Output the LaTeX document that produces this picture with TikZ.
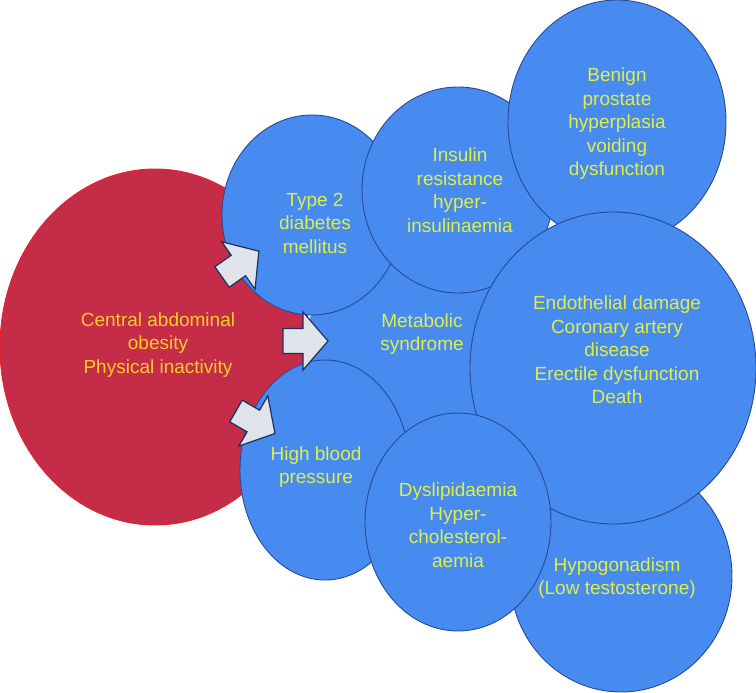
\documentclass[tikz,border=0pt]{standalone}
\usepackage{fontspec}
\setmainfont{Liberation Sans}
\usetikzlibrary{shapes.geometric}
\definecolor{redfill}{RGB}{196,44,72}
\definecolor{redline}{RGB}{232,30,40}
\definecolor{bluefill}{RGB}{72,139,240}
\definecolor{blueline}{RGB}{40,74,150}
\definecolor{txtgreen}{RGB}{222,240,70}
\definecolor{txtyellow}{RGB}{250,205,40}
\definecolor{arrfill}{RGB}{222,228,233}
\definecolor{arrline}{RGB}{28,48,98}
\begin{document}
\begin{tikzpicture}[x=1pt,y=-1pt,
 bubble/.style={ellipse, draw=blueline, fill=bluefill, line width=0.9pt, inner sep=0pt},
 lbl/.style={align=center, text=txtgreen, inner sep=0pt, font=\fontsize{19}{23.5}\selectfont},
 fatarrow/.style={draw=arrline, fill=arrfill, line width=1.2pt, line join=miter},
 pics/blockarrow/.style={code={
   \path[fatarrow] (0,12.5) -- (20,12.5) -- (20,29) -- (45,0) -- (20,-29)
     -- (20,-12.5) -- (0,-12.5) -- cycle;}}]
\useasboundingbox (0,0) rectangle (756,693);
% cause
\node[ellipse, draw=redline, fill=redfill, line width=0.9pt, inner sep=0pt,
  minimum width=310pt, minimum height=356pt] (obesity) at (155,347) {};
\node[lbl, text=txtyellow] (tobesity) at (158,345) {Central abdominal\\obesity\\Physical inactivity};
% metabolic syndrome background
\node[circle, fill=bluefill, inner sep=0pt, minimum size=210pt] (metab) at (410,350) {};
\node[lbl] (tmetab) at (422,334) {Metabolic\\syndrome};
% bubbles
\node[bubble, minimum width=180pt, minimum height=200pt] (type2) at (312,215) {};
\node[lbl] (ttype2) at (315,223) {Type 2\\diabetes\\mellitus};
\node[bubble, minimum width=170pt, minimum height=220pt] (hbp) at (325,470) {};
\node[lbl] (thbp) at (316,467) {High blood\\pressure};
\node[bubble, minimum width=222pt, minimum height=232pt] (hypo) at (621,576) {};
\node[lbl] (thypo) at (617,578) {Hypogonadism\\(Low testosterone)};
\node[bubble, minimum width=192pt, minimum height=206pt] (insulin) at (458,190) {};
\node[lbl] (tinsulin) at (460,190) {Insulin\\resistance\\hyper-\\insulinaemia};
\node[bubble, minimum width=218pt, minimum height=244pt] (bph) at (617,122) {};
\node[lbl] (tbph) at (617,124) {Benign\\prostate\\hyperplasia\\voiding\\dysfunction};
\node[bubble, minimum width=286pt, minimum height=312pt] (endo) at (613,368) {};
\node[lbl] (tendo) at (617,350) {Endothelial damage\\Coronary artery\\disease\\Erectile dysfunction\\Death};
\node[bubble, minimum width=186pt, minimum height=218pt] (dys) at (458,522) {};
\node[lbl] (tdys) at (458,525) {Dyslipidaemia\\Hyper-\\cholesterol-\\aemia};
% block arrows
\coordinate (a1) at (222,277);
\coordinate (a2) at (283,341);
\coordinate (a3) at (236,411);
\pic[rotate=35] at (a1) {blockarrow};
\pic at (a2) {blockarrow};
\pic[rotate=-30] at (a3) {blockarrow};
\end{tikzpicture}
\end{document}
